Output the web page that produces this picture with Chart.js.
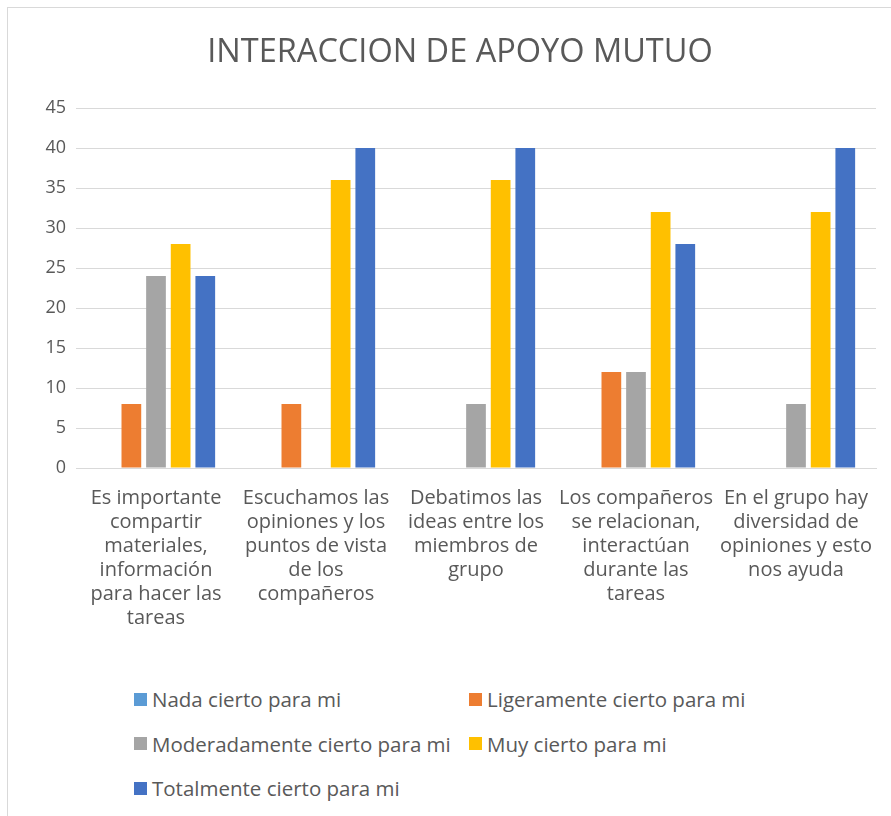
<!DOCTYPE html>
<html>
<head>
<meta charset="utf-8">
<script src="https://cdn.jsdelivr.net/npm/chart.js@4.4.0/dist/chart.umd.min.js"></script>
<style>
    html, body { margin: 0; padding: 0; background: #fff; overflow: hidden; width: 891px; height: 816px; }
    #frame { position: absolute; left: 7px; top: 7px; width: 905px; height: 830px; border: 1px solid #d9d9d9; box-sizing: border-box; }
    #chartBox { position: absolute; left: 8px; top: 8px; width: 904px; height: 632px; }
    #legend { position: absolute; left: 134px; top: 677px; display: grid; grid-template-columns: 335px 335px; grid-auto-rows: 44.5px; font-family: "Open Sans", sans-serif; font-size: 20.5px; color: #595959; }
    .item { display: flex; align-items: center; white-space: nowrap; }
    .box { width: 13px; height: 13px; margin-right: 5px; flex: none; }
</style>
</head>
<body>
<div id="frame"></div>
<div id="chartBox"><canvas id="chart"></canvas></div>
<div id="legend"></div>
<script>
// ============================================================
// DATA
// ============================================================
const categories = [
    ['Es importante', 'compartir', 'materiales,', 'información', 'para hacer las', 'tareas'],
    ['Escuchamos las', 'opiniones y los', 'puntos de vista', 'de los', 'compañeros'],
    ['Debatimos las', 'ideas entre los', 'miembros de', 'grupo'],
    ['Los compañeros', 'se relacionan,', 'interactúan', 'durante las', 'tareas'],
    ['En el grupo hay', 'diversidad de', 'opiniones y esto', 'nos ayuda']
];
const seriesNames = [
    'Nada cierto para mi',
    'Ligeramente cierto para mi',
    'Moderadamente cierto para mi',
    'Muy cierto para mi',
    'Totalmente cierto para mi'
];
const nadaCierto = [0, 0, 0, 0, 0];
const ligeramenteCierto = [8, 8, 0, 12, 0];
const moderadamenteCierto = [24, 0, 8, 12, 8];
const muyCierto = [28, 36, 36, 32, 32];
const totalmenteCierto = [24, 40, 40, 28, 40];
const yTicks = [0, 5, 10, 15, 20, 25, 30, 35, 40, 45];

const colors = ['#5B9BD5', '#ED7D31', '#A5A5A5', '#FFC000', '#4472C4'];
const seriesValues = [nadaCierto, ligeramenteCierto, moderadamenteCierto, muyCierto, totalmenteCierto];

// ============================================================
// CHART
// ============================================================
const textColor = '#595959';
const font = '"Open Sans", sans-serif';

const ctx = document.getElementById('chart');
new Chart(ctx.getContext('2d'), {
    type: 'bar',
    data: {
        labels: categories,
        datasets: seriesNames.map((name, i) => ({
            label: name,
            data: seriesValues[i],
            backgroundColor: colors[i],
            borderWidth: 0,
            categoryPercentage: 0.77,
            barPercentage: 0.8
        }))
    },
    options: {
        responsive: true,
        maintainAspectRatio: false,
        animation: false,
        layout: { padding: 0 },
        plugins: {
            legend: { display: false },
            tooltip: { enabled: false },
            title: {
                display: true,
                text: 'INTERACCION DE APOYO MUTUO',
                color: textColor,
                font: { family: font, size: 32.5, weight: 'normal' },
                padding: { top: 25, bottom: 36 }
            }
        },
        scales: {
            x: {
                grid: { display: false },
                border: { color: '#d9d9d9' },
                ticks: {
                    color: textColor,
                    font: { family: font, size: 20, lineHeight: 1.2 },
                    maxRotation: 0,
                    autoSkip: false,
                    padding: 10
                }
            },
            y: {
                min: 0,
                max: 45,
                afterFit: (scale) => { scale.width = 68; },
                afterBuildTicks: (scale) => { scale.ticks = yTicks.map(v => ({ value: v })); },
                grid: { color: '#d9d9d9', drawTicks: false },
                border: { display: false },
                ticks: {
                    color: textColor,
                    font: { family: font, size: 18 },
                    padding: 10
                }
            },
            // empty right-hand spacer so the title stays centred on the whole frame
            spacer: {
                type: 'linear',
                position: 'right',
                afterFit: (scale) => { scale.width = 36; },
                grid: { display: false },
                border: { display: false },
                ticks: { display: false }
            }
        }
    }
});

// ============================================================
// LEGEND
// ============================================================
const legend = document.getElementById('legend');
seriesNames.forEach((name, i) => {
    const div = document.createElement('div');
    div.className = 'item';
    div.innerHTML = `<span class="box" style="background:${colors[i]}"></span><span>${name}</span>`;
    legend.appendChild(div);
});
</script>
</body>
</html>
